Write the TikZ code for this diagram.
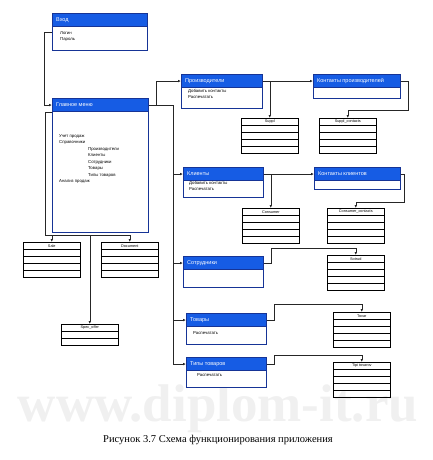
\documentclass[tikz,border=0pt]{standalone}
\usepackage{fontspec}
\setmainfont{Liberation Serif}
\setsansfont{Liberation Sans}
\usetikzlibrary{arrows.meta}

\definecolor{winblue}{RGB}{22,92,228}
\definecolor{winframe}{RGB}{22,52,150}

\tikzset{
  winbody/.style={draw=winframe, line width=1.1pt, fill=white, anchor=north west, inner sep=0},
  winhead/.style={draw=winframe, line width=1.1pt, fill=winblue, anchor=north west, inner sep=0, minimum height=13},
  wintitle/.style={anchor=west, xshift=4pt, inner sep=0, text=white, font=\sffamily\fontsize{5.5}{6}\selectfont},
  wintext/.style={anchor=north west, inner sep=0, align=left, font=\sffamily\fontsize{4.3}{6.5}\selectfont},
  tblhead/.style={draw, line width=0.6pt, anchor=north west, inner sep=0, minimum width=57, minimum height=7, font=\sffamily\fontsize{3.8}{4}\selectfont},
  tblrow/.style={draw, line width=0.6pt},
  conn/.style={draw, line width=0.6pt, black!85},
  arr/.style={conn, -{Latex[length=3pt,width=2.6pt]}}
}

% window: name, x, y, width, height, title
\newcommand{\appwin}[6]{%
  \node[winbody, minimum width=#4, minimum height=#5] (#1) at (#2,#3) {};
  \node[winhead, minimum width=#4] (#1-t) at (#2,#3) {};
  \node[wintitle] at (#1-t.west) {#6};
}
% table: name, x, y, title, rows
\newcommand{\dbtable}[5]{%
  \node[tblhead] (#1) at (#2,#3) {#4};
  \foreach \r in {1,...,#5}
    \draw[tblrow] ([yshift=-\r*7pt+7pt]#1.south west) rectangle ++(57,7);
}

\begin{document}
\begin{tikzpicture}[x=1pt,y=-1pt]
\useasboundingbox (0,0) rectangle (433,460);

% watermark and caption
\node[text=black!6, inner sep=0, font=\bfseries\fontsize{53}{53}\selectfont] (wm) at (218,409) {www.diplom-it.ru};
\node[inner sep=0, font=\fontsize{10.5}{12}\selectfont] (cap) at (218,440) {Рисунок 3.7 Схема функционирования приложения};

% windows
\appwin{vhod}{52}{13}{95}{37}{Вход}
\node[wintext] at (60,31) {Логин\\Пароль};

\appwin{glav}{52}{98}{96}{134}{Главное меню}
\node[wintext] at (59,134) {Учет продаж\\Справочники};
\node[wintext] at (88,147) {Производители\\Клиенты\\Сотрудники\\Товары\\Типы товаров};
\node[wintext] at (59,179) {Анализ продаж};

\appwin{proizv}{181}{74}{81}{34}{Производители}
\node[wintext] at (188,89) {Добавить контакты\\Распечатать};
\appwin{kproizv}{313}{74}{87}{24}{Контакты производителей}

\appwin{klient}{183}{167}{80}{30}{Клиенты}
\node[wintext] at (189,181) {Добавить контакты\\Распечатать};
\appwin{kklient}{314}{167}{86}{22}{Контакты клиентов}

\appwin{sotr}{183}{256}{80}{31}{Сотрудники}

\appwin{tovary}{186}{313}{80}{31}{Товары}
\node[wintext] at (193,331) {Распечатать};

\appwin{tipy}{186}{357}{80}{30}{Типы товаров}
\node[wintext] at (197,373) {Распечатать};

% tables
\dbtable{suppl}{241}{118}{Suppl}{4}
\dbtable{supc}{319}{118}{Suppl\_contacts}{4}
\dbtable{consumer}{242}{208}{Consumer}{4}
\dbtable{conc}{327}{208}{Consumer\_contacts}{4}
\dbtable{sotrud}{327}{255}{Sotrud}{4}
\dbtable{tovar}{333}{312}{Tovar}{4}
\dbtable{tipi}{333}{362}{Tipi tovarov}{4}
\dbtable{sale}{23}{242}{Sale}{4}
\dbtable{doc}{101}{242}{Document}{4}
\dbtable{spec}{61}{324}{Spec\_offer}{2}

% connectors
\coordinate (lbus) at (45,235);
\coordinate (rbus) at (173,107);

\path[arr] (vhod.west) -- ++(-8,0) |- (glav-t.west);

\path[conn] (glav-t.south west) -| (lbus) -- (lbus -| doc.north);
\path[arr] (lbus -| sale.north) -- (sale.north);
\path[arr] (lbus -| doc.north) -- (doc.north);
\path[arr] (lbus -| spec.north) -- (spec.north);

\path[arr] (glav-t.east) -- ++(7,0) |- (proizv-t.west);
\path[conn] (glav-t.east) -| (rbus |- tipy-t.west);
\path[arr] (rbus |- klient-t.west) -- (klient-t.west);
\path[arr] (rbus |- sotr-t.west) -- (sotr-t.west);
\path[arr] (rbus |- tovary-t.west) -- (tovary-t.west);
\path[arr] (rbus |- tipy-t.west) -- (tipy-t.west);

\path[arr] (proizv-t.east) -- (kproizv-t.west);
\path[arr] (proizv-t.east -| suppl.north) -- (suppl.north);
\path[arr] (kproizv-t.east) -- ++(7,0) |- ([yshift=8pt]supc.north) -- (supc.north);

\path[arr] (klient-t.east) -- (kklient-t.west);
\path[arr] (klient-t.east -| consumer.north) -- (consumer.north);
\path[arr] (kklient-t.east) -- ++(3,0) |- ([yshift=6pt]conc.north) -- (conc.north);

\path[arr] (sotr-t.east) -- ++(7,0) |- ([yshift=7pt]sotrud.north) -- (sotrud.north);
\path[arr] (tovary-t.east) -- ++(7,0) |- ([yshift=8pt]tovar.north) -- (tovar.north);
\path[arr] (tipy-t.east) -- ++(7,0) |- ([yshift=7pt]tipi.north) -- (tipi.north);
\end{tikzpicture}
\end{document}
